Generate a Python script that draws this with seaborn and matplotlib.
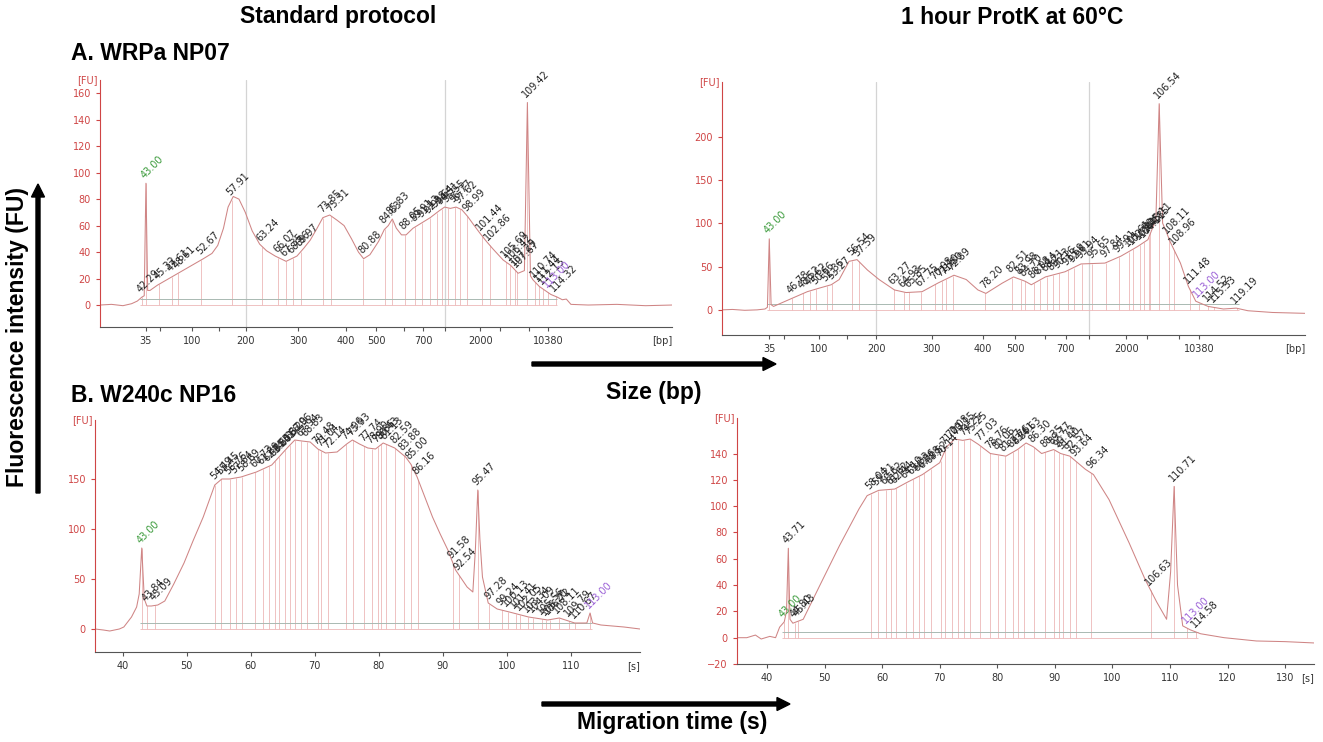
import numpy as np
import pandas as pd
import matplotlib
matplotlib.use("Agg")
import matplotlib.pyplot as plt
import seaborn as sns
from matplotlib.patches import FancyArrow
from matplotlib.transforms import IdentityTransform

# ---------------- data ----------------
# A. WRPa NP07, standard protocol (migration time s, FU)
tl_time = [35, 37, 39, 40.5, 41.5, 42.3, 42.7, 43.0, 43.3, 43.7, 45, 47, 49, 51, 53, 54.5, 55.5,
           56.5, 57.3, 58.2, 59.2, 60.3, 61.5, 62.8, 64, 65.5, 67.4, 69.3, 70.5, 71.6, 72.8, 73.8,
           75.0, 76.3, 77.5, 78.8, 80.0, 80.9, 82.0, 83.5, 84.5, 85.2, 85.9, 86.6, 87.5, 88.3, 89.5,
           91, 92.5, 94, 95, 96, 97, 98, 99, 100, 101.2, 102.3, 103.5, 105.2, 106.5, 107.8, 108.9,
           109.42, 109.95, 110.4, 111.5, 112.5, 113.5, 114.6, 115.5, 116.2, 117, 120, 125, 130, 134.6]
tl_fu = [0, 0.5, -0.5, 1, 3, 6, 7, 92, 11, 11, 15, 20, 25, 30, 35, 39, 45,
         58, 74, 82, 80, 70, 56, 46, 41, 37, 33, 37, 43, 49, 58, 66,
         68, 64, 60, 50, 40, 35, 38, 48, 57, 60, 65, 58, 53, 53, 58,
         62, 66, 71, 74, 73, 74, 72, 67, 61, 54, 48, 42, 34, 30, 24, 26,
         153, 22, 19, 14, 11, 8, 6, 4, 4.5, 0.5, 0, 0.5, -0.5, 0]
tl_peaks = [42.29, 45.32, 47.61, 48.61, 52.67, 57.91, 63.24, 66.07, 67.35, 68.56, 69.97, 73.85,
            75.31, 80.88, 84.63, 85.83, 88.05, 89.91, 91.12, 92.38, 93.64, 94.51, 95.55, 96.77,
            97.62, 98.99, 101.44, 102.86, 105.69, 106.42, 107.29, 107.67, 109.42, 110.74, 111.44,
            112.15, 114.32]

# A. WRPa NP07, 1 hour ProtK at 60C
tr_time = [35.3, 37, 39, 41, 42.3, 42.7, 43.0, 43.3, 43.7, 46.6, 49.2, 51.1, 53.1, 54.4, 56.0,
           57.3, 59.0, 60.9, 63.4, 65.3, 67.9, 70.5, 73.1, 75.1, 77.0, 78.3, 81.0, 82.8, 84.7,
           85.7, 88.0, 91.2, 93.8, 97.7, 100.3, 103.0, 104.7, 106.0, 106.54, 107.1, 107.6, 108.3,
           110.0, 111.3, 112.5, 114.5, 117, 119.1, 121, 125, 130.3]
tr_fu = [0, 0.5, -0.5, 0, 1, 3, 82, 6, 4, 13, 21, 25, 29, 35, 56,
         58, 46, 35, 23, 20, 21, 31, 40, 35, 23, 19, 31, 38, 33,
         29, 38, 44, 53, 54, 62, 73, 81, 104, 238, 100, 92, 79,
         54, 27, 10, 4, 1, 2, -1, -3, -4]
tr_peaks = [46.78, 48.52, 49.62, 50.66, 52.36, 53.27, 56.54, 57.59, 63.27, 64.93, 65.85, 67.75,
            70.08, 71.10, 71.80, 72.89, 78.20, 82.51, 83.98, 84.70, 86.08, 87.14, 88.21, 89.23,
            90.16, 91.69, 92.61, 93.94, 95.65, 97.84, 99.91, 101.61, 102.30, 103.45, 104.11,
            104.85, 105.11, 106.54, 108.11, 108.96, 111.48, 114.52, 115.53, 119.19]

# B. W240c NP16, standard protocol
bl_time = [35.7, 37, 38, 39.5, 40.2, 41.4, 42.2, 42.6, 43.0, 43.4, 43.8, 44.5, 45.5, 46.6, 48,
           49.6, 51, 52.6, 54.4, 55.5, 56.7, 58.5, 60.9, 63.3, 65.7, 66.9, 68, 69.3, 70.5, 71.7,
           73.5, 75, 75.9, 77, 78.3, 79.5, 80.7, 82.5, 84.2, 85, 86, 87.2, 88.4, 89.6, 90.8, 92,
           93.8, 94.7, 95.1, 95.47, 95.8, 96.2, 97.1, 98.5, 100.4, 103.4, 106.4, 108.2, 110.6,
           112.5, 113.0, 113.4, 114.7, 118.3, 120.8]
bl_fu = [0, -1, -2, 0, 2, 12, 22, 35, 81, 30, 23, 23, 24, 28, 45,
         66, 88, 112, 144, 150, 150, 152, 157, 164, 181, 189, 188, 187, 180, 176,
         177, 185, 189, 185, 181, 180, 186, 181, 172, 165, 152, 132, 112, 95, 79, 59,
         42, 37, 80, 139, 90, 52, 26, 20, 17, 12, 9, 11, 6,
         6, 16, 6, 4, 2, 0]
bl_peaks = [43.84, 45.09, 54.49, 55.45, 56.76, 57.64, 58.69, 60.73, 61.89, 62.85, 63.80, 64.41,
            65.37, 66.20, 66.96, 67.94, 68.83, 70.48, 71.04, 72.14, 74.96, 75.93, 77.74, 78.90,
            79.86, 80.43, 81.13, 82.59, 83.88, 85.00, 86.16, 91.58, 92.54, 95.47, 97.28, 99.24,
            100.13, 101.41, 102.05, 103.34, 104.09, 105.56, 106.20, 106.72, 108.11, 109.79, 110.67]

# B. W240c NP16, 1 hour ProtK at 60C
br_time = [34.8, 36.5, 38, 39, 40.5, 41.5, 42.2, 43.0, 43.4, 43.71, 44.0, 44.5, 46.3, 49.1, 52.6,
           56, 57.4, 59.4, 62.2, 64.3, 67, 70, 71.2, 72.6, 74, 75.3, 76.7, 78.8, 81.5, 83.5, 85,
           86.3, 87.7, 89.8, 91, 92.6, 95.3, 96.7, 99.4, 102.9, 105.7, 107.7, 109.4, 110.1, 110.71,
           111.3, 112.2, 113.5, 115.3, 119.4, 125, 130, 135]
br_fu = [0, 0, 2, -1, 1, 0, 8, 12, 20, 68, 14, 11, 14, 39, 70,
         98, 108, 112, 113, 118, 124, 133, 145, 151, 150, 151, 147, 140, 138, 143, 148,
         145, 140, 143, 140, 138, 128, 124, 105, 72, 44, 27, 14, 50, 115,
         40, 9, 6, 3, 0, -2.5, -3, -4]
br_peaks = [43.71, 44.80, 45.43, 58.04, 59.21, 60.62, 61.62, 62.44, 64.10, 65.33, 66.36, 67.28,
            68.52, 70.14, 71.00, 72.08, 73.15, 74.25, 75.25, 77.03, 78.76, 80.06, 81.27, 82.76,
            83.61, 84.63, 86.30, 88.35, 89.77, 90.73, 91.40, 92.57, 93.64, 96.34, 106.63, 110.71,
            114.58]

lower_marker = 43.00
upper_marker = 113.00

# ladder: size labels (bp) and their migration times
ladder_bp = ["35", "", "100", "", "200", "300", "400", "500", "", "700", "", "2000", "", "", "10380"]
ladder_time = [43.0, 45.4, 51.1, 55.7, 60.4, 69.5, 77.8, 83.1, 87.9, 91.3, 95.1, 101.2, 104.6, 109.7, 113.0]
ladder_grid_time = [60.4, 95.1]

sec_ticks = [40, 50, 60, 70, 80, 90, 100, 110, 120, 130]

# ---------------- style ----------------
sns.set_style("white")
plt.rcParams["font.family"] = ["DejaVu Sans"]

W, H = 1323, 742
fig = plt.figure(figsize=(W / 100, H / 100), dpi=100)

RED = "#cf4545"
CURVE = "#cf8585"
PINK = "#edb8b8"
GRAYBASE = "#a9b9b2"
GREEN = "#3a9a3a"
PURPLE = "#9a5fd6"


def panel(rect, time, fu, peaks, xlim, ylim, yticks, xticks, xlabels, unit, grid):
    l, t, r, b = rect
    ax = fig.add_axes([l / W, 1 - b / H, (r - l) / W, (b - t) / H])
    df = pd.DataFrame({"t": time, "fu": fu})
    for g in grid:
        ax.axvline(g, color="#d4d4d4", lw=0.9, zorder=0)
    allp = list(peaks) + [lower_marker, upper_marker]
    yv = np.interp(allp, time, fu)
    ax.vlines(allp, 0, yv, color=PINK, lw=0.6, zorder=1)
    span = ylim[1] - ylim[0]
    ax.hlines(0.025 * span, min(allp) - 0.3, max(allp) + 0.3, color=GRAYBASE, lw=0.7, zorder=1)
    ax.hlines(0, min(allp) - 0.3, max(allp) + 0.3, color=PINK, lw=0.6, zorder=1)
    sns.lineplot(data=df, x="t", y="fu", ax=ax, color=CURVE, lw=0.75,
                 estimator=None, sort=False, zorder=2)
    pad = 0.012 * span
    for p, y in zip(peaks, np.interp(peaks, time, fu)):
        ax.text(p, y + pad, f"{p:.2f}", rotation=45, rotation_mode="anchor",
                ha="left", va="bottom", fontsize=7, color="#222222", zorder=3)
    for p, c in ((lower_marker, GREEN), (upper_marker, PURPLE)):
        y = np.interp(p, time, fu)
        ax.text(p, y + pad, f"{p:.2f}", rotation=45, rotation_mode="anchor",
                ha="left", va="bottom", fontsize=7, color=c, zorder=3)
    ax.set_xlim(*xlim)
    ax.set_ylim(*ylim)
    ax.set_yticks(yticks)
    ax.set_xticks(xticks)
    ax.set_xticklabels(xlabels)
    ax.set_xlabel("")
    ax.set_ylabel("")
    for s in ("top", "right"):
        ax.spines[s].set_visible(False)
    ax.spines["left"].set_color(RED)
    ax.spines["bottom"].set_color("#555555")
    ax.tick_params(axis="y", colors=RED, labelsize=7, length=3, width=0.8, left=True)
    ax.tick_params(axis="x", colors="#555555", labelcolor="#333333", labelsize=7,
                   length=3, width=0.8, bottom=True)
    ax.annotate("[FU]", xy=(0, 1), xycoords="axes fraction", xytext=(-2, 0),
                textcoords="offset points", ha="right", va="center", color=RED, fontsize=7)
    ax.annotate(unit, xy=(1, 0), xycoords="axes fraction", xytext=(0, -6.5),
                textcoords="offset points", ha="right", va="top", color="#333333", fontsize=7)
    return ax


panel((100, 80, 672, 327), tl_time, tl_fu, tl_peaks, (35.0, 134.6), (-16.6, 170),
      [0, 20, 40, 60, 80, 100, 120, 140, 160], ladder_time, ladder_bp, "[bp]", ladder_grid_time)
panel((722, 82, 1305, 335), tr_time, tr_fu, tr_peaks, (35.3, 130.3), (-29, 263),
      [0, 50, 100, 150, 200], ladder_time, ladder_bp, "[bp]", ladder_grid_time)
panel((95, 420, 640, 652), bl_time, bl_fu, bl_peaks, (35.7, 120.8), (-23, 209),
      [0, 50, 100, 150], sec_ticks[:-2], [str(v) for v in sec_ticks[:-2]], "[s]", [])
panel((737, 418, 1314, 664), br_time, br_fu, br_peaks, (34.8, 135), (-20, 167),
      [-20, 0, 20, 40, 60, 80, 100, 120, 140], sec_ticks, [str(v) for v in sec_ticks], "[s]", [])

# ---------------- figure annotations ----------------
BIG = dict(family=["Liberation Sans", "DejaVu Sans"], weight="bold", color="black")


def ftext(x, y, s, size, **kw):
    fig.text(x / W, 1 - y / H, s, fontsize=size, **BIG, **kw)


ftext(338, 17, "Standard protocol", 16.5, ha="center", va="center")
ftext(1012, 17, "1 hour ProtK at 60°C", 16.5, ha="center", va="center")
ftext(71, 54, "A. WRPa NP07", 16.5, ha="left", va="center")
ftext(71, 395, "B. W240c NP16", 16.5, ha="left", va="center")
ftext(654, 393, "Size (bp)", 16.5, ha="center", va="center")
ftext(672, 723, "Migration time (s)", 16.5, ha="center", va="center")
ftext(18, 337, "Fluorescence intensity (FU)", 16.5, ha="center", va="center", rotation=90)


def arrow(x0, y0, x1, y1):
    a = FancyArrow(x0, H - y0, x1 - x0, -(y1 - y0), width=4, head_width=13, head_length=13,
                   length_includes_head=True, color="black", transform=IdentityTransform())
    fig.add_artist(a)


arrow(532, 364, 776, 364)
arrow(542, 704, 790, 704)
arrow(38, 493, 38, 184)

fig.savefig("out.png", dpi=100)
